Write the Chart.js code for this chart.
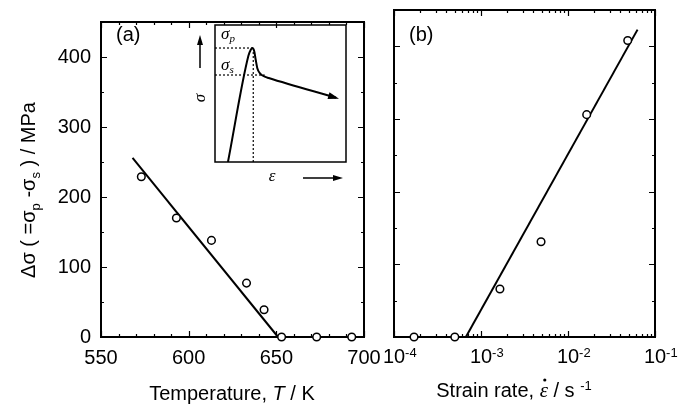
<!DOCTYPE html>
<html>
<head>
<meta charset="utf-8">
<script src="https://cdn.jsdelivr.net/npm/chart.js@4/dist/chart.umd.min.js"></script>
<style>
  html, body { margin: 0; padding: 0; background: #fff; }
  #wrap { position: relative; width: 692px; height: 406px; }
  #wrap canvas { position: absolute; left: 0; top: 0; width: 692px; height: 406px; }
</style>
</head>
<body>
<div id="wrap">
  <canvas id="chartTemp" width="692" height="406"></canvas>
  <canvas id="chartRate" width="692" height="406"></canvas>
  <canvas id="chartInset" width="692" height="406"></canvas>
</div>
<script>
// ---- (a) stress drop vs temperature ----
const tempK      = [573, 593, 613, 633, 643, 653, 673, 693];
const dSigmaTemp = [229, 170, 138, 77, 39, 0, 0, 0];
const fitTempX   = [568, 651];
const fitTempY   = [256, 0];
const tempTicks  = [550, 600, 650, 700];

// ---- (b) stress drop vs strain rate ----
const rateS      = [1.7e-4, 5.0e-4, 1.65e-3, 4.9e-3, 1.64e-2, 4.86e-2];
const dSigmaRate = [0, 0, 66, 131, 306, 408];
const fitRateX   = [6.7e-4, 6.3e-2];
const fitRateY   = [0, 423];
const rateTicks  = [1e-4, 1e-3, 1e-2, 1e-1];

const stressTicks = [0, 100, 200, 300, 400];

// ---- inset: schematic stress-strain curve (arbitrary units) ----
const curveStrain = [9.9, 25.5, 27.3, 28.6, 29.9, 31.0, 32.3, 34.5, 38.0, 41.0, 92.4];
const curveStress = [0, 77.5, 82.0, 83.2, 81.0, 75.0, 68.5, 64.5, 62.3, 61.3, 46.9];
const peakStress = 83.2;
const steadyStress = 63.5;
const peakStrain = 29.2;

const SANS = '"Liberation Sans", Arial, Helvetica, sans-serif';
const SERIF = '"Liberation Serif", "Times New Roman", serif';
Chart.defaults.font.family = SANS;
Chart.defaults.color = '#000';

// rich text: segments of {t, f, dy}
function drawRich(ctx, segs, x, y, align, angle) {
  ctx.save();
  ctx.translate(x, y);
  if (angle) ctx.rotate(angle);
  let w = 0;
  segs.forEach(s => { ctx.font = s.f; s.w = ctx.measureText(s.t).width; w += s.w; });
  let cx = align === 'center' ? -w / 2 : (align === 'right' ? -w : 0);
  ctx.textBaseline = 'alphabetic';
  ctx.textAlign = 'left';
  ctx.fillStyle = '#000';
  segs.forEach(s => { ctx.font = s.f; ctx.fillText(s.t, cx, s.dy || 0); cx += s.w; });
  ctx.restore();
  return w;
}

function arrowHead(ctx, x, y, ang, len, half) {
  ctx.save();
  ctx.translate(x, y);
  ctx.rotate(ang);
  ctx.beginPath();
  ctx.moveTo(0, 0);
  ctx.lineTo(-len, -half);
  ctx.lineTo(-len, half);
  ctx.closePath();
  ctx.fillStyle = '#000';
  ctx.fill();
  ctx.restore();
}

// frame with inward ticks on all four sides
const frameTicks = {
  id: 'frameTicks',
  beforeDatasetsDraw(chart, args, o) {
    const { ctx, chartArea: a, scales } = chart;
    const xs = scales.x, ys = scales.y;
    ctx.save();
    ctx.strokeStyle = '#000';
    ctx.lineWidth = 1.2;
    ctx.beginPath();
    const xt = (v, len) => {
      const p = Math.round(xs.getPixelForValue(v)) + 0.5;
      ctx.moveTo(p, a.bottom); ctx.lineTo(p, a.bottom - len);
      ctx.moveTo(p, a.top); ctx.lineTo(p, a.top + len);
    };
    const yt = (v, len) => {
      const p = Math.round(ys.getPixelForValue(v)) + 0.5;
      ctx.moveTo(a.left, p); ctx.lineTo(a.left + len, p);
      ctx.moveTo(a.right, p); ctx.lineTo(a.right - len, p);
    };
    o.xMinor.forEach(v => xt(v, 3));
    o.xMajor.forEach(v => xt(v, 6));
    o.yMinor.forEach(v => yt(v, 3));
    o.yMajor.forEach(v => yt(v, 6));
    ctx.stroke();
    ctx.lineWidth = 2;
    ctx.strokeRect(a.left, a.top, a.right - a.left, a.bottom - a.top);
    ctx.restore();
  },
  afterDraw(chart, args, o) {
    if (o.draw) o.draw(chart);
  }
};

const tempMinor = [];
for (let t = 560; t < 700; t += 10) if (t % 50) tempMinor.push(t);
const stressMinor = [50, 150, 250, 350, 450];
const rateMinor = [];
for (let e = -4; e < -1; e++) for (let m = 2; m <= 9; m++) rateMinor.push(m * Math.pow(10, e));

const pointStyle = {
  showLine: false, pointRadius: 3.8, pointBorderWidth: 1.5,
  pointBackgroundColor: '#fff', pointBorderColor: '#000', borderColor: '#000',
  clip: false, order: 0
};
const lineStyle = {
  showLine: true, pointRadius: 0, borderWidth: 2, borderColor: '#000',
  order: 1, clip: false
};

const toXY = (xs, ys) => xs.map((x, i) => ({ x, y: ys[i] }));

// ---- panel (a) ----
new Chart(document.getElementById('chartTemp'), {
  type: 'scatter',
  data: {
    datasets: [
      Object.assign({ data: toXY(fitTempX, fitTempY) }, lineStyle),
      Object.assign({ data: toXY(tempK, dSigmaTemp) }, pointStyle)
    ]
  },
  options: {
    responsive: false, animation: false, events: [],
    layout: { padding: { left: 0, top: 10, right: 328, bottom: 0 } },
    plugins: {
      legend: { display: false }, tooltip: { enabled: false },
      frameTicks: {
        xMajor: tempTicks, xMinor: tempMinor, yMajor: stressTicks, yMinor: stressMinor,
        draw(chart) {
          const ctx = chart.ctx;
          const it = 'italic 20px ' + SANS;
          const f = '20px ' + SANS;
          drawRich(ctx, [{ t: '(a)', f }], 116, 41, 'left');
          drawRich(ctx, [{ t: 'Temperature, ', f }, { t: 'T', f: it }, { t: ' / K', f }], 232, 400, 'center');
          const fs = '13px ' + SANS;
          drawRich(ctx, [
            { t: 'Δσ ( =σ', f }, { t: 'p', f: fs, dy: 5 },
            { t: ' -σ', f }, { t: 's', f: fs, dy: 5 },
            { t: ' ) / MPa', f }
          ], 35, 190, 'center', -Math.PI / 2);
        }
      }
    },
    scales: {
      x: {
        type: 'linear', min: 550, max: 700,
        grid: { display: false, drawTicks: false }, border: { display: false },
        ticks: { stepSize: 50, includeBounds: false, font: { size: 20 }, color: '#000', padding: 9, maxRotation: 0 },
        afterFit(s) { s.height = 69; }
      },
      y: {
        min: 0, max: 450,
        grid: { display: false, drawTicks: false }, border: { display: false },
        ticks: { stepSize: 100, includeBounds: false, font: { size: 20 }, color: '#000', padding: 10 },
        afterFit(s) { s.width = 101; }
      }
    }
  },
  plugins: [frameTicks]
});

// ---- panel (b) ----
new Chart(document.getElementById('chartRate'), {
  type: 'scatter',
  data: {
    datasets: [
      Object.assign({ data: toXY(fitRateX, fitRateY) }, lineStyle),
      Object.assign({ data: toXY(rateS, dSigmaRate) }, pointStyle)
    ]
  },
  options: {
    responsive: false, animation: false, events: [],
    layout: { padding: { left: 394, top: 10, right: 37, bottom: 69 } },
    plugins: {
      legend: { display: false }, tooltip: { enabled: false },
      frameTicks: {
        xMajor: rateTicks, xMinor: rateMinor, yMajor: stressTicks, yMinor: stressMinor,
        draw(chart) {
          const ctx = chart.ctx;
          const xs = chart.scales.x;
          const f = '20px ' + SANS;
          const fe = '13px ' + SANS;
          rateTicks.forEach(v => {
            const p = xs.getPixelForValue(v);
            ctx.save();
            ctx.font = f;
            const w10 = ctx.measureText('10').width;
            ctx.restore();
            drawRich(ctx, [{ t: '10', f }, { t: '-' + Math.round(-Math.log10(v)), f: fe, dy: -6 }], p - w10 / 2, 363, 'left');
          });
          drawRich(ctx, [{ t: '(b)', f }], 409, 41, 'left');
          // axis title with dotted epsilon
          const fi = 'italic 21px ' + SERIF;
          const w = drawRich(ctx, [
            { t: 'Strain rate, ', f }, { t: 'ε', f: fi }, { t: ' / s ', f }, { t: '-1', f: fe, dy: -7 }
          ], 514, 397, 'center');
          ctx.save();
          ctx.font = f;
          const w1 = ctx.measureText('Strain rate, ').width;
          ctx.font = fi;
          const we = ctx.measureText('ε').width;
          ctx.beginPath();
          ctx.arc(514 - w / 2 + w1 + we / 2 + 1, 380, 1.6, 0, Math.PI * 2);
          ctx.fillStyle = '#000';
          ctx.fill();
          ctx.restore();
        }
      }
    },
    scales: {
      x: { type: 'logarithmic', min: 1e-4, max: 1e-1, display: false },
      y: { min: 0, max: 450, display: false }
    }
  },
  plugins: [frameTicks]
});

// ---- inset ----
const insetDeco = {
  id: 'insetDeco',
  afterDatasetsDraw(chart) {
    const { ctx, chartArea: a, scales } = chart;
    const xs = scales.x, ys = scales.y;
    ctx.save();
    ctx.strokeStyle = '#000';
    ctx.lineWidth = 1.5;
    ctx.strokeRect(a.left, a.top, a.right - a.left, a.bottom - a.top);
    // arrow head at curve end
    const n = curveStrain.length;
    const x1 = xs.getPixelForValue(curveStrain[n - 2]), y1 = ys.getPixelForValue(curveStress[n - 2]);
    const x2 = xs.getPixelForValue(curveStrain[n - 1]), y2 = ys.getPixelForValue(curveStress[n - 1]);
    arrowHead(ctx, x2 + 3, y2 + 1, Math.atan2(y2 - y1, x2 - x1), 11, 3.5);
    // axis arrows outside box
    ctx.lineWidth = 1.5;
    ctx.beginPath();
    ctx.moveTo(a.left - 15, a.top + 43); ctx.lineTo(a.left - 15, a.top + 18);
    ctx.moveTo(a.left + 88, a.bottom + 16); ctx.lineTo(a.left + 118, a.bottom + 16);
    ctx.stroke();
    arrowHead(ctx, a.left - 15, a.top + 10, -Math.PI / 2, 10, 3);
    arrowHead(ctx, a.left + 128, a.bottom + 16, 0, 10, 3);
    const fi = 'italic 17px ' + SERIF;
    const fs = 'italic 11px ' + SERIF;
    drawRich(ctx, [{ t: 'σ', f: fi }], a.left - 10, a.top + 73, 'center', -Math.PI / 2);
    drawRich(ctx, [{ t: 'ε', f: fi }], a.left + 57, a.bottom + 19, 'center');
    drawRich(ctx, [{ t: 'σ', f: fi }, { t: 'p', f: fs, dy: 3 }], a.left + 6, a.top + 14, 'left');
    drawRich(ctx, [{ t: 'σ', f: fi }, { t: 's', f: fs, dy: 3 }], a.left + 6, a.top + 45, 'left');
    ctx.restore();
  }
};

const dash = { showLine: true, pointRadius: 0, borderWidth: 1.2, borderColor: '#000', borderDash: [2, 2] };
new Chart(document.getElementById('chartInset'), {
  type: 'scatter',
  data: {
    datasets: [
      { data: toXY(curveStrain, curveStress), showLine: true, pointRadius: 0, borderWidth: 2,
        borderColor: '#000', cubicInterpolationMode: 'monotone' },
      Object.assign({ data: [{ x: 0, y: peakStress }, { x: peakStrain - 0.5, y: peakStress }] }, dash),
      Object.assign({ data: [{ x: 0, y: steadyStress }, { x: 38, y: steadyStress }] }, dash),
      Object.assign({ data: [{ x: peakStrain, y: peakStress }, { x: peakStrain, y: 0 }] }, dash)
    ]
  },
  options: {
    responsive: false, animation: false, events: [],
    layout: { padding: { left: 215, top: 25, right: 346, bottom: 244 } },
    plugins: { legend: { display: false }, tooltip: { enabled: false } },
    scales: {
      x: { type: 'linear', min: 0, max: 100, display: false },
      y: { min: 0, max: 100, display: false }
    }
  },
  plugins: [insetDeco]
});
</script>
</body>
</html>
